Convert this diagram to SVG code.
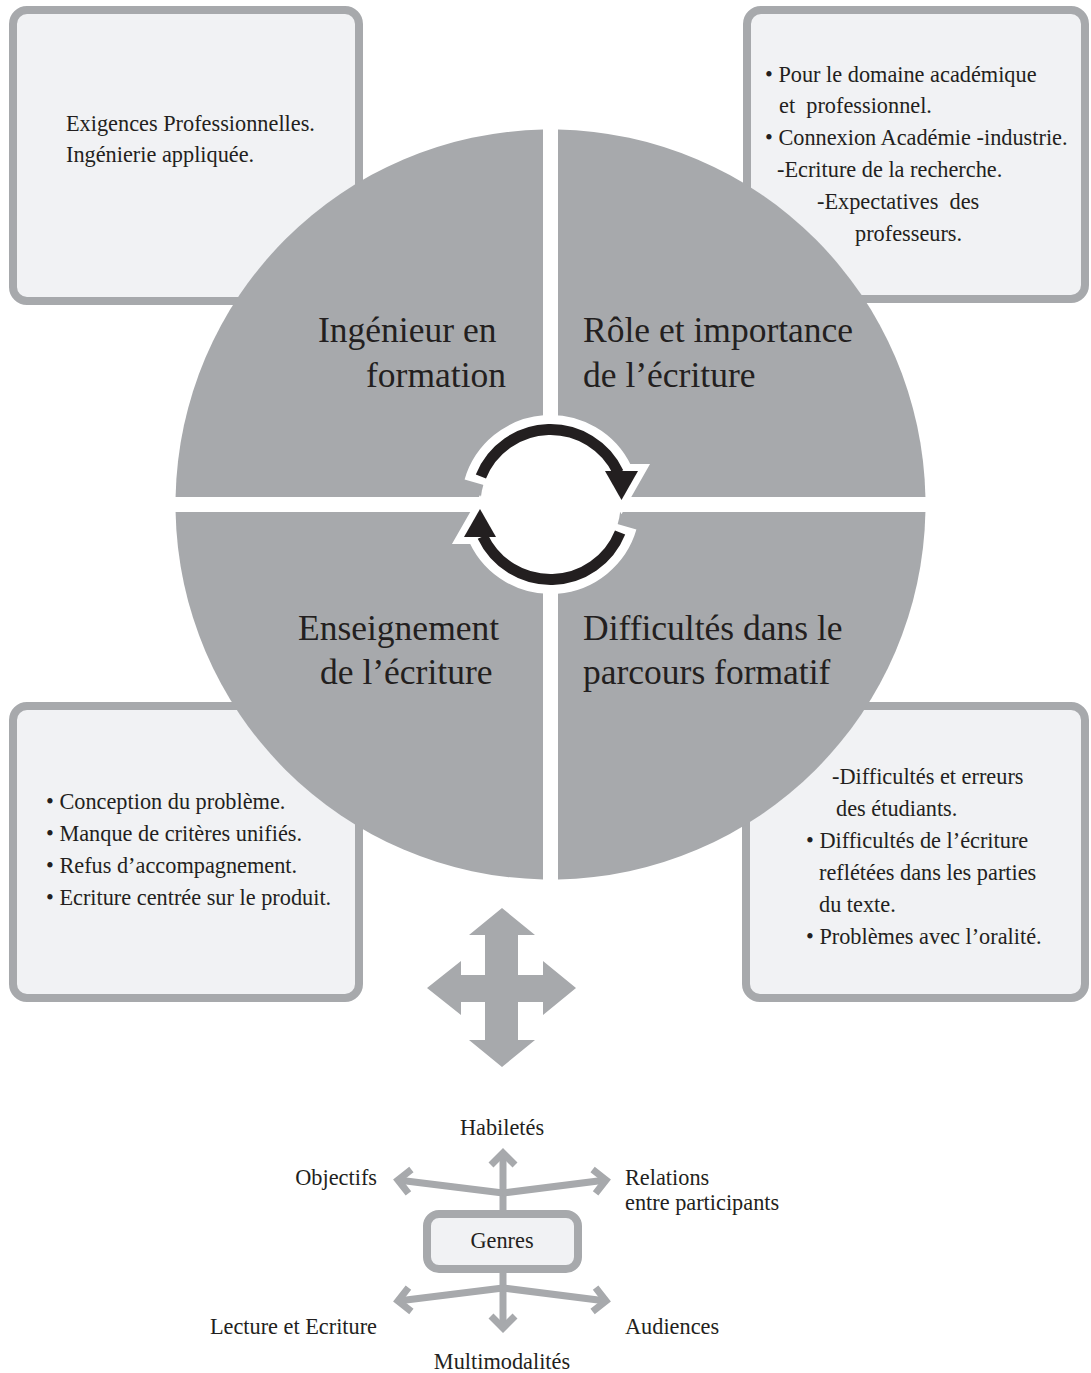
<svg xmlns="http://www.w3.org/2000/svg" width="1091" height="1373" viewBox="0 0 1091 1373">
<style>
.box{fill:#f1f2f4;stroke:#a7a9ac;stroke-width:8}
.quad{fill:#a7a9ac}
.t{font-family:"Liberation Serif","Times New Roman",serif;font-size:22.3px;fill:#231f20;white-space:pre}
.q{font-family:"Liberation Serif","Times New Roman",serif;font-size:35.5px;fill:#231f20}
.con{stroke:#a7a9ac;stroke-width:7;fill:none}
.halo{stroke:#fff;fill:none;stroke-width:29}
.haloh{fill:#fff;stroke:#fff;stroke-width:14;stroke-linejoin:miter}
.arc{stroke:#231f20;fill:none;stroke-width:11}
.ah{fill:#231f20}
</style>
<defs>
<marker id="chev" markerUnits="userSpaceOnUse" markerWidth="40" markerHeight="40" viewBox="-20 -20 40 40" refX="0" refY="0" orient="auto" overflow="visible">
<path d="M-12,-12 L0,0 L-12,12" fill="none" stroke="#a7a9ac" stroke-width="7" stroke-linejoin="miter"/>
</marker>
</defs>
<rect width="1091" height="1373" fill="#fff"/>

<g id="box-tl">
<rect class="box" x="13" y="10" width="346" height="291" rx="14"/>
</g>
<g id="box-tr">
<rect class="box" x="747" y="10" width="338" height="289" rx="14"/>
</g>
<g id="box-bl">
<rect class="box" x="13" y="706" width="346" height="292" rx="14"/>
</g>
<g id="box-br">
<rect class="box" x="746" y="706" width="339" height="292" rx="14"/>
</g>

<g id="quad-tl">
<path class="quad" d="M543,497 L175.58,497 A375,375 0 0 1 543,129.58 Z"/>
<text class="q" x="318" y="342">Ingénieur en</text>
<text class="q" x="366" y="387">formation</text>
</g>
<g id="quad-tr">
<path class="quad" d="M558,497 L558,129.58 A375,375 0 0 1 925.42,497 Z"/>
<text class="q" x="583" y="342">Rôle et importance</text>
<text class="q" x="583" y="387">de l’écriture</text>
</g>
<g id="quad-br">
<path class="quad" d="M558,512 L925.42,512 A375,375 0 0 1 558,879.42 Z"/>
<text class="q" x="583" y="640">Difficultés dans le</text>
<text class="q" x="583" y="684">parcours formatif</text>
</g>
<g id="quad-bl">
<path class="quad" d="M543,512 L543,879.42 A375,375 0 0 1 175.58,512 Z"/>
<text class="q" x="298" y="640">Enseignement</text>
<text class="q" x="320" y="684">de l’écriture</text>
</g>

<g id="cycle">
<circle cx="550.5" cy="504.5" r="70" fill="#fff"/>
<path class="halo" d="M478.5,483.5 A75,75 0 0 1 618.3,472.5"/>
<path class="halo" d="M622.5,525.5 A75,75 0 0 1 482.7,536.5"/>
<polygon class="haloh" points="605,471 638,471 621.5,500"/>
<polygon class="haloh" points="464,537 496,537 480,509"/>
<path class="arc" d="M480.9,476.5 A75,75 0 0 1 618.3,472.5"/>
<path class="arc" d="M620.1,532.5 A75,75 0 0 1 482.7,536.5"/>
<polygon class="ah" points="605,471 638,471 621.5,500"/>
<polygon class="ah" points="464,537 496,537 480,509"/>
</g>

<g id="text-tl">
<text class="t" x="66" y="131">Exigences Professionnelles.</text>
<text class="t" x="66" y="162">Ingénierie appliquée.</text>
</g>
<g id="text-tr">
<text class="t" x="765" y="82">• Pour le domaine académique</text>
<text class="t" x="779" y="113">et  professionnel.</text>
<text class="t" x="765" y="145">• Connexion Académie -industrie.</text>
<text class="t" x="777" y="177">-Ecriture de la recherche.</text>
<text class="t" x="817" y="209">-Expectatives  des</text>
<text class="t" x="855" y="241">professeurs.</text>
</g>
<g id="text-bl">
<text class="t" x="46" y="809">• Conception du problème.</text>
<text class="t" x="46" y="841">• Manque de critères unifiés.</text>
<text class="t" x="46" y="873">• Refus d’accompagnement.</text>
<text class="t" x="46" y="905">• Ecriture centrée sur le produit.</text>
</g>
<g id="text-br">
<text class="t" x="832" y="784">-Difficultés et erreurs</text>
<text class="t" x="836" y="816">des étudiants.</text>
<text class="t" x="806" y="848">• Difficultés de l’écriture</text>
<text class="t" x="819" y="880">reflétées dans les parties</text>
<text class="t" x="819" y="912">du texte.</text>
<text class="t" x="806" y="944">• Problèmes avec l’oralité.</text>
</g>

<g id="cross-arrow">
<polygon fill="#a7a9ac" points="502,908 535,935 518,935 518,975 543,975 543,961 576,988 543,1015 543,1002 518,1002 518,1040 535,1040 502,1067 469,1040 485,1040 485,1002 461,1002 461,1015 427,988 461,961 461,975 485,975 485,935 469,935"/>
</g>

<g id="connectors">
<path class="con" d="M503,1210 L503,1153" marker-end="url(#chev)"/>
<path class="con" d="M503,1193 L398,1180" marker-end="url(#chev)"/>
<path class="con" d="M503,1193 L606,1180" marker-end="url(#chev)"/>
<path class="con" d="M503,1273 L503,1328" marker-end="url(#chev)"/>
<path class="con" d="M503,1288 L398,1301" marker-end="url(#chev)"/>
<path class="con" d="M503,1288 L606,1301" marker-end="url(#chev)"/>
</g>

<g id="genres">
<rect class="box" x="427" y="1214" width="151" height="55" rx="12"/>
<text class="t" x="502" y="1248" text-anchor="middle">Genres</text>
</g>
<g id="lbl-habiletes"><text class="t" x="502" y="1135" text-anchor="middle">Habiletés</text></g>
<g id="lbl-objectifs"><text class="t" x="377" y="1185" text-anchor="end">Objectifs</text></g>
<g id="lbl-relations"><text class="t" x="625" y="1185">Relations</text><text class="t" x="625" y="1210">entre participants</text></g>
<g id="lbl-lecture"><text class="t" x="377" y="1334" text-anchor="end">Lecture et Ecriture</text></g>
<g id="lbl-audiences"><text class="t" x="625" y="1334">Audiences</text></g>
<g id="lbl-multi"><text class="t" x="502" y="1369" text-anchor="middle">Multimodalités</text></g>
</svg>
